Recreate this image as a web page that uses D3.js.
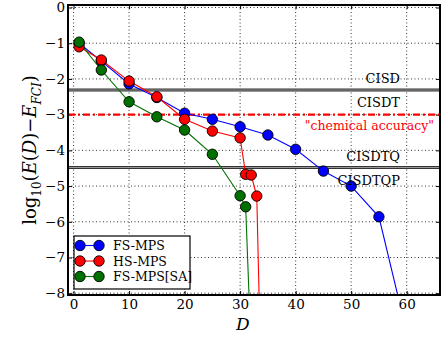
<!DOCTYPE html>
<html><head><meta charset="utf-8">
<script src="https://cdn.jsdelivr.net/npm/d3@7"></script>
<style>body{margin:0;background:#fff}svg{display:block}svg text{font-family:"DejaVu Serif","Liberation Serif",serif !important}</style>
</head><body><svg id="c" width="442" height="337"></svg>
<script>
const fsD   = [1, 5, 10, 15, 20, 25, 30, 35, 40, 45, 50, 55, 60];
const fsE   = [-1.0, -1.5, -2.14, -2.52, -2.96, -3.13, -3.34, -3.57, -3.97, -4.58, -5.0, -5.86, -9.1];
const hsD   = [1, 5, 10, 15, 20, 25, 30, 31, 32, 33, 34];
const hsE   = [-1.1, -1.47, -2.06, -2.5, -3.13, -3.46, -3.65, -4.67, -4.69, -5.28, -12.0];
const saD   = [1, 5, 10, 15, 20, 25, 30, 31, 32];
const saE   = [-0.97, -1.75, -2.64, -3.06, -3.43, -4.11, -5.27, -5.58, -9.7];
const xTicks = [0, 10, 20, 30, 40, 50, 60];
const yTicks = [0, -1, -2, -3, -4, -5, -6, -7, -8];
const ciLevels = [-2.31, -4.48];
const ciLabelsAbove = ["CISD", "CISDTQ"];
const ciLabelsBelow = ["CISDT", "CISDTQP"];
const chemAcc = -3;
const series = [
  {name:"FS-MPS", D:fsD, E:fsE, color:"#0000ff"},
  {name:"HS-MPS", D:hsD, E:hsE, color:"#ff0000"},
  {name:"FS-MPS[SA]", D:saD, E:saE, color:"#007000"}
];
const FONT = "'DejaVu Serif','Liberation Serif',serif";

const svg = d3.select("#c");
const L = 68, R = 440, T = 5, B = 295;
const x = d3.scaleLinear().domain([-1, 66]).range([L, R]);
const y = d3.scaleLinear().domain([-8.05, 0.07]).range([B, T]);

svg.append("defs").append("clipPath").attr("id","clip")
  .append("rect").attr("x",L).attr("y",T).attr("width",R-L).attr("height",B-T);

// grid
const g = svg.append("g");
g.selectAll(".gx").data(xTicks).join("line")
  .attr("x1",d=>x(d)).attr("x2",d=>x(d)).attr("y1",T).attr("y2",B)
  .attr("stroke","#000").attr("stroke-width",0.8).attr("stroke-dasharray","1,2.5");
g.selectAll(".gy").data(yTicks).join("line")
  .attr("y1",d=>y(d)).attr("y2",d=>y(d)).attr("x1",L).attr("x2",R)
  .attr("stroke","#000").attr("stroke-width",0.8).attr("stroke-dasharray","1,2.5");

// axes with inward ticks
const xAxis = d3.axisBottom(x).tickValues(xTicks).tickSize(-4).tickPadding(5).tickFormat(d3.format("d"));
const xa = svg.append("g").attr("transform",`translate(0,${B})`).call(xAxis);
const xAxisTop = d3.axisTop(x).tickValues(xTicks).tickSize(-4).tickFormat("");
svg.append("g").attr("transform",`translate(0,${T})`).call(xAxisTop);
const yAxis = d3.axisLeft(y).tickValues(yTicks).tickSize(-4).tickPadding(3)
  .tickFormat(d => d < 0 ? "\u2212" + Math.abs(d) : String(d));
const ya = svg.append("g").attr("transform",`translate(${L},0)`).call(yAxis);
const yAxisR = d3.axisRight(y).tickValues(yTicks).tickSize(-4).tickFormat("");
svg.append("g").attr("transform",`translate(${R},0)`).call(yAxisR);
svg.selectAll(".domain").remove();
svg.selectAll("g").attr("font-family", FONT);
svg.selectAll(".tick line").attr("stroke","#000");
svg.selectAll(".tick text").attr("fill","#000").attr("font-family",FONT).attr("font-size",13.5);
xa.selectAll(".tick text").attr("y",14).attr("dy",0);

// CI levels
const plot = svg.append("g").attr("clip-path","url(#clip)");
plot.selectAll(".ci").data(ciLevels).join("line")
  .attr("x1",L).attr("x2",R).attr("y1",d=>y(d)).attr("y2",d=>y(d))
  .attr("stroke","#333").attr("stroke-width",3.2);
plot.selectAll(".ci2").data(ciLevels).join("line")
  .attr("x1",L).attr("x2",R).attr("y1",d=>y(d)).attr("y2",d=>y(d))
  .attr("stroke","#999").attr("stroke-width",1.2);
plot.append("line").attr("x1",L).attr("x2",R).attr("y1",y(chemAcc)).attr("y2",y(chemAcc))
  .attr("stroke","#ff0000").attr("stroke-width",2.2).attr("stroke-dasharray","7,3,2,3");

svg.selectAll(".cla").data(ciLevels).join("text")
  .attr("x",400).attr("y",d=>y(d)-7).attr("text-anchor","end")
  .attr("font-family",FONT).attr("font-size",13).text((d,i)=>ciLabelsAbove[i]);
svg.selectAll(".clb").data(ciLevels).join("text")
  .attr("x",400).attr("y",d=>y(d)+17).attr("text-anchor","end")
  .attr("font-family",FONT).attr("font-size",13).text((d,i)=>ciLabelsBelow[i]);
svg.append("text").attr("x",434).attr("y",y(chemAcc)+15).attr("text-anchor","end")
  .attr("fill","#ff0000").attr("font-family",FONT).attr("font-size",12.5).text("\"chemical accuracy\"");

// series
const line = d3.line().x(d=>x(d[0])).y(d=>y(d[1]));
series.forEach(s => {
  const pts = s.D.map((d,i)=>[d, s.E[i]]);
  plot.append("path").datum(pts).attr("d",line).attr("fill","none")
    .attr("stroke",s.color).attr("stroke-width",1.1);
});
series.forEach(s => {
  const pts = s.D.map((d,i)=>[d, s.E[i]]);
  plot.selectAll(null).data(pts).join("circle")
    .attr("cx",d=>x(d[0])).attr("cy",d=>y(d[1])).attr("r",5.2)
    .attr("fill",s.color).attr("stroke","#000").attr("stroke-width",0.9);
});

// frame
svg.append("rect").attr("x",L).attr("y",T).attr("width",R-L).attr("height",B-T)
  .attr("fill","none").attr("stroke","#000").attr("stroke-width",2);

// legend
const lg = svg.append("g");
lg.append("rect").attr("x",74).attr("y",236).attr("width",116).attr("height",53)
  .attr("fill","#fff").attr("stroke","#000").attr("stroke-width",1.2);
series.forEach((s,i) => {
  const yy = 245.5 + i*15.5;
  lg.append("line").attr("x1",80).attr("x2",99).attr("y1",yy).attr("y2",yy)
    .attr("stroke",s.color).attr("stroke-width",1.1);
  [80,99].forEach(cx => lg.append("circle").attr("cx",cx).attr("cy",yy).attr("r",5.2)
    .attr("fill",s.color).attr("stroke","#000").attr("stroke-width",0.9));
  lg.append("text").attr("x",113).attr("y",yy+4.5).attr("font-family",FONT).attr("font-size",12.5).text(s.name);
});

// axis labels
svg.append("text").attr("x",x(30.5)).attr("y",330).attr("text-anchor","middle")
  .attr("font-family",FONT).attr("font-size",17).attr("font-style","italic").text("D");
const yl = svg.append("text").attr("transform","translate(36,150) rotate(-90)")
  .attr("text-anchor","middle").attr("font-family",FONT).attr("font-size",18);
yl.append("tspan").text("log");
yl.append("tspan").attr("dy",5).attr("font-size",12).text("10");
yl.append("tspan").attr("dy",-5).text("(");
yl.append("tspan").attr("font-style","italic").text("E");
yl.append("tspan").text("(");
yl.append("tspan").attr("font-style","italic").text("D");
yl.append("tspan").text(")\u2212");
yl.append("tspan").attr("font-style","italic").text("E");
yl.append("tspan").attr("dy",5).attr("font-size",12).attr("font-style","italic").text("FCI");
yl.append("tspan").attr("dy",-5).text(")");
</script></body></html>
